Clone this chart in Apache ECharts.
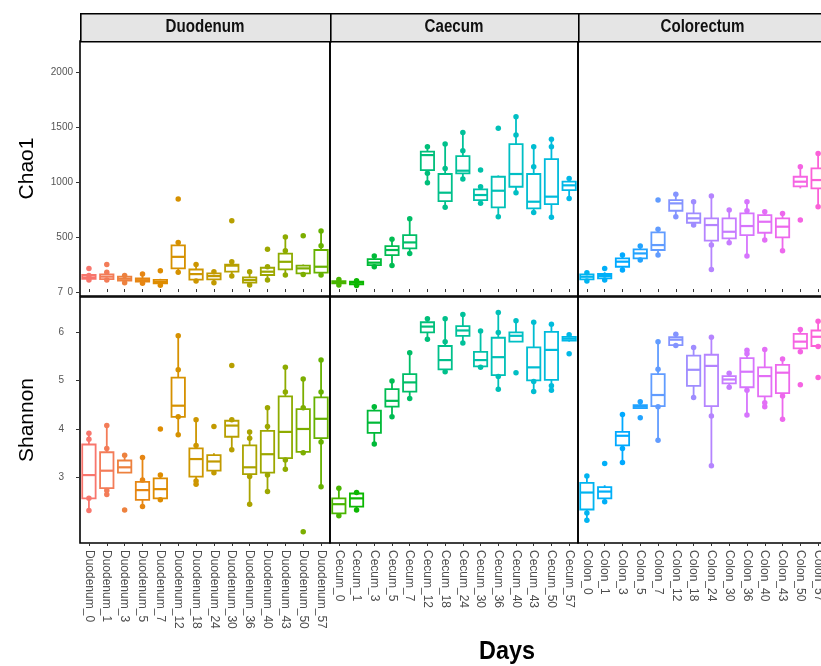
<!DOCTYPE html>
<html>
<head>
<meta charset="utf-8">
<script src="https://cdn.jsdelivr.net/npm/echarts@6/dist/echarts.min.js"></script>
<style>
    html, body { margin: 0; padding: 0; background: #fff; }
    #alpha_chart { width: 821px; height: 666px; }
</style>
</head>
<body>
<div id="alpha_chart"></div>
<script>

// Categories
var duodenumCats = ['Duodenum_0', 'Duodenum_1', 'Duodenum_3', 'Duodenum_5', 'Duodenum_7', 'Duodenum_12', 'Duodenum_18',
    'Duodenum_24', 'Duodenum_30', 'Duodenum_36', 'Duodenum_40', 'Duodenum_43', 'Duodenum_50', 'Duodenum_57'];
var caecumCats = ['Cecum_0', 'Cecum_1', 'Cecum_3', 'Cecum_5', 'Cecum_7', 'Cecum_12', 'Cecum_18',
    'Cecum_24', 'Cecum_30', 'Cecum_36', 'Cecum_40', 'Cecum_43', 'Cecum_50', 'Cecum_57'];
var colonCats = ['Colon_0', 'Colon_1', 'Colon_3', 'Colon_5', 'Colon_7', 'Colon_12', 'Colon_18',
    'Colon_24', 'Colon_30', 'Colon_36', 'Colon_40', 'Colon_43', 'Colon_50', 'Colon_57'];

var facetNames = ['Duodenum', 'Caecum', 'Colorectum'];

// Tick labels
var chao1Ticks = [0, 500, 1000, 1500, 2000];
var shannonTicks = [3, 4, 5, 6];

// Chao1 boxes: [min, Q1, median, Q3, max] and sample points
var duodenumChao1Box = [
    [110, 121, 133, 155, 160], [105, 118, 140, 160, 180], [85, 105, 121, 140, 150], [80, 95, 108, 125, 165],
    [62, 78, 92, 110, 120], [180, 215, 320, 425, 450], [100, 112, 163, 205, 250], [85, 115, 145, 170, 185],
    [145, 185, 240, 250, 276], [64, 85, 109, 133, 185], [110, 155, 185, 221, 230], [155, 206, 275, 350, 500],
    [160, 170, 215, 240, 250], [155, 176, 230, 382, 554]
];
var duodenumChao1Pts = [
    [215, 150, 110], [251, 180, 110], [150, 85], [165, 80], [194, 62], [845, 450, 180], [250, 100],
    [185, 85], [648, 276, 145], [185, 64], [388, 230, 110], [500, 376, 155], [512, 160], [554, 421, 155]
];
var caecumChao1Box = [
    [65, 80, 90, 100, 115], [60, 70, 85, 95, 103], [230, 245, 267, 300, 327], [242, 336, 382, 418, 479],
    [351, 397, 451, 518, 667], [994, 1109, 1245, 1276, 1321], [770, 827, 903, 1073, 1345], [1027, 1079, 1103, 1236, 1451],
    [806, 836, 882, 933, 957], [685, 770, 921, 1048, 1060], [903, 957, 1073, 1345, 1594], [724, 761, 821, 1073, 1321],
    [679, 800, 867, 1209, 1388], [851, 927, 970, 1003, 1033]
];
var caecumChao1Pts = [
    [115, 65], [103, 60], [327, 230], [479, 242], [667, 351], [1321, 1079, 994], [1345, 1124, 770],
    [1451, 1285, 1027], [1109, 957, 806], [1488, 685], [1594, 1427, 903], [1321, 1139, 724], [1388, 1321, 679], [1033, 851]
];
var colonChao1Box = [
    [100, 115, 139, 160, 175], [109, 124, 145, 164, 180], [200, 230, 276, 306, 336], [291, 306, 351, 388, 418],
    [336, 382, 427, 542, 570], [685, 739, 806, 836, 888], [609, 630, 670, 715, 821], [206, 467, 609, 670, 873],
    [448, 488, 548, 670, 745], [327, 518, 600, 715, 821], [473, 539, 639, 700, 730], [376, 497, 594, 670, 715],
    [942, 960, 1003, 1048, 1139], [776, 942, 1018, 1124, 1260]
];
var colonChao1Pts = [
    [175, 100], [215, 109], [336, 200], [418, 291], [836, 570, 336], [888, 685], [821, 609],
    [873, 427, 206], [745, 448], [821, 739, 327], [730, 473], [715, 376], [1139, 654], [1260, 776]
];

// Shannon boxes: [min, Q1, median, Q3, max] and sample points
var duodenumShannonBox = [
    [2.32, 2.57, 3.05, 3.68, 3.91], [2.65, 2.78, 3.14, 3.52, 4.07], [3.10, 3.10, 3.21, 3.35, 3.46], [2.40, 2.54, 2.74, 2.91, 3.41],
    [2.54, 2.57, 2.76, 2.98, 3.05], [3.88, 4.25, 4.48, 5.06, 5.92], [2.86, 3.02, 3.38, 3.60, 4.19], [3.10, 3.14, 3.33, 3.46, 3.50],
    [3.57, 3.84, 4.07, 4.17, 4.19], [2.45, 3.07, 3.21, 3.66, 3.94], [2.71, 3.10, 3.48, 3.96, 4.44], [3.17, 3.40, 3.94, 4.67, 5.27],
    [3.51, 3.53, 4.00, 4.41, 5.03], [2.81, 3.81, 4.21, 4.65, 5.42]
];
var duodenumShannonPts = [
    [3.91, 3.79, 2.57, 2.32], [4.07, 3.60, 2.73, 2.65], [3.46, 2.33], [3.41, 2.95, 2.40], [4.00, 3.05, 2.54],
    [5.92, 5.22, 4.25, 3.88], [4.19, 3.66, 2.93, 2.86], [4.05, 3.10], [5.31, 4.19, 3.57], [3.94, 3.81, 3.02, 2.45],
    [4.44, 4.05, 3.05, 2.71], [5.27, 4.76, 3.36, 3.17], [5.03, 4.44, 3.51, 1.88], [5.42, 4.76, 3.73, 2.81]
];
var caecumShannonBox = [
    [2.21, 2.26, 2.45, 2.57, 2.78], [2.33, 2.40, 2.57, 2.67, 2.69], [3.69, 3.92, 4.13, 4.38, 4.46], [4.25, 4.46, 4.58, 4.82, 4.99],
    [4.63, 4.77, 4.96, 5.13, 5.57], [5.85, 5.99, 6.11, 6.20, 6.27], [5.18, 5.23, 5.42, 5.71, 6.27], [5.77, 5.92, 6.03, 6.12, 6.36],
    [5.27, 5.29, 5.42, 5.59, 6.02], [4.82, 5.11, 5.48, 5.88, 6.40], [5.80, 5.80, 5.92, 5.99, 6.23], [4.77, 5.00, 5.27, 5.68, 6.20],
    [4.80, 5.01, 5.63, 6.00, 6.16], [5.80, 5.82, 5.86, 5.90, 5.94]
];
var caecumShannonPts = [
    [2.78, 2.21], [2.69, 2.33], [4.46, 3.69], [4.99, 4.25], [5.57, 4.63], [6.27, 5.85], [6.27, 5.80, 5.18],
    [6.36, 5.77], [6.02, 5.27], [6.40, 5.99, 5.08, 4.82], [6.23, 5.16], [6.20, 4.98, 4.77], [6.16, 4.89, 4.80], [5.94, 5.55]
];
var colonShannonBox = [
    [2.12, 2.34, 2.69, 2.89, 3.03], [2.50, 2.57, 2.71, 2.80, 2.84], [3.31, 3.66, 3.86, 3.94, 4.30], [4.43, 4.43, 4.46, 4.49, 4.56],
    [3.77, 4.47, 4.70, 5.13, 5.80], [5.72, 5.73, 5.84, 5.89, 5.95], [4.65, 4.89, 5.22, 5.51, 5.68], [3.24, 4.47, 5.30, 5.53, 5.89],
    [4.86, 4.94, 5.02, 5.09, 5.15], [4.29, 4.86, 5.18, 5.46, 5.62], [4.46, 4.67, 5.09, 5.27, 5.64], [4.20, 4.74, 5.16, 5.32, 5.44],
    [5.59, 5.66, 5.80, 5.96, 6.05], [5.70, 5.71, 5.90, 6.03, 6.22]
];
var colonShannonPts = [
    [3.03, 2.27, 2.12], [3.29, 2.50], [4.30, 3.60, 3.31], [4.56, 4.23], [5.80, 5.23, 4.46, 3.77], [5.95, 5.72], [5.68, 4.65],
    [5.89, 4.27, 3.24], [5.15, 4.86], [5.62, 5.55, 4.80, 4.29], [5.64, 4.54, 4.46], [5.44, 4.68, 4.20], [6.05, 5.59, 4.91], [6.22, 5.70, 5.06]
];


// Setup
// ------------------------------

var catsByCol = [duodenumCats, caecumCats, colonCats];
var boxesByRow = [
    [duodenumChao1Box, caecumChao1Box, colonChao1Box],
    [duodenumShannonBox, caecumShannonBox, colonShannonBox]
];
var ptsByRow = [
    [duodenumChao1Pts, caecumChao1Pts, colonChao1Pts],
    [duodenumShannonPts, caecumShannonPts, colonShannonPts]
];

var cols = [{left: 80, width: 250}, {left: 330, width: 248}, {left: 578, width: 249}];
var rows = [
    {top: 41, height: 255, min: -36, max: 2282, ticks: chao1Ticks, name: 'Chao1', margin: 7},
    {top: 297, height: 246, min: 1.65, max: 6.72, ticks: shannonTicks, name: 'Shannon', margin: 16}
];

var labelFont = '"Liberation Sans", Arial, sans-serif';

// ggplot-like hue palette (hcl, c=100, l=65)
var hueColor = function(i, n) {
    var h = (15 + 360 * i / n) * Math.PI / 180;
    var L = 65, C = 100;
    var U = C * Math.cos(h), V = C * Math.sin(h);
    var Xn = 95.047, Yn = 100, Zn = 108.883;
    var den = Xn + 15 * Yn + 3 * Zn;
    var un = 4 * Xn / den, vn = 9 * Yn / den;
    var Y = Yn * Math.pow((L + 16) / 116, 3);
    var u = U / (13 * L) + un, v = V / (13 * L) + vn;
    var X = 9 * Y * u / (4 * v);
    var Z = 3 * Y / v - 5 * Y - X / 3;
    X /= 100; Y /= 100; Z /= 100;
    var lin = [
        3.240479 * X - 1.537150 * Y - 0.498535 * Z,
        -0.969256 * X + 1.875992 * Y + 0.041556 * Z,
        0.055648 * X - 0.204043 * Y + 1.057311 * Z
    ];
    return '#' + lin.map(function(c) {
        c = c <= 0.0031308 ? 12.92 * c : 1.055 * Math.pow(c, 1 / 2.4) - 0.055;
        c = Math.round(Math.max(0, Math.min(1, c)) * 255);
        return (c < 16 ? '0' : '') + c.toString(16);
    }).join('');
};
var palette = [];
for (var k = 0; k < 48; k++) palette.push(hueColor(k, 48));

var makeBoxRender = function(offset) {
    return function(params, api) {
        var x = api.value(0);
        var lo = api.coord([x, api.value(1)]);
        var q1 = api.coord([x, api.value(2)]);
        var md = api.coord([x, api.value(3)]);
        var q3 = api.coord([x, api.value(4)]);
        var hi = api.coord([x, api.value(5)]);
        var w = api.size([1, 0])[0] * 0.75;
        var color = palette[offset + x];
        var line = {stroke: color, lineWidth: 1.8};
        return {
            type: 'group',
            children: [
                {type: 'line', shape: {x1: lo[0], y1: lo[1], x2: q1[0], y2: q1[1]}, style: line},
                {type: 'line', shape: {x1: q3[0], y1: q3[1], x2: hi[0], y2: hi[1]}, style: line},
                {type: 'rect', shape: {x: q3[0] - w / 2, y: q3[1], width: w, height: q1[1] - q3[1]},
                    style: {fill: '#fff', stroke: color, lineWidth: 1.8}},
                {type: 'line', shape: {x1: md[0] - w / 2, y1: md[1], x2: md[0] + w / 2, y2: md[1]},
                    style: {stroke: color, lineWidth: 2.2}}
            ]
        };
    };
};

var grids = [], xAxes = [], yAxes = [], series = [], graphics = [];

rows.forEach(function(row, r) {
    cols.forEach(function(col, c) {
        var g = r * 3 + c;
        grids.push({
            left: col.left, top: row.top, width: col.width, height: row.height,
            outerBoundsMode: 'none', containLabel: false,
            show: true, borderColor: '#000', borderWidth: 1.6, backgroundColor: 'transparent'
        });
        xAxes.push({
            type: 'category', gridIndex: g, data: catsByCol[c],
            axisLine: {show: false},
            axisTick: {show: true, interval: 0, alignWithLabel: true, inside: r === 0, length: 3,
                lineStyle: {color: '#333'}},
            axisLabel: r === 1 ? {
                show: true, rotate: -90, interval: 0, margin: 7, fontSize: 12,
                color: '#4d4d4d', fontFamily: labelFont
            } : {show: false, interval: 0},
            splitLine: {show: false}
        });
        yAxes.push({
            type: 'value', gridIndex: g, min: row.min, max: row.max,
            name: c === 0 ? row.name : '',
            nameLocation: 'middle', nameGap: 42,
            nameTextStyle: {fontSize: 21, color: '#000', fontFamily: labelFont},
            axisLine: {show: false},
            splitLine: {show: false},
            axisTick: {show: c === 0, length: 4, customValues: row.ticks, lineStyle: {color: '#333'}},
            axisLabel: {show: c === 0, customValues: row.ticks, margin: row.margin, fontSize: 10,
                color: '#555', fontFamily: labelFont,
                formatter: function(v) { return String(v); }}
        });

        var offset = c * 14;
        var boxData = boxesByRow[r][c].map(function(b, i) {
            return [i].concat(b);
        });
        var ptData = [];
        ptsByRow[r][c].forEach(function(list, i) {
            list.forEach(function(v) { ptData.push([i, v]); });
        });

        series.push({
            type: 'custom', xAxisIndex: g, yAxisIndex: g, z: 2,
            renderItem: makeBoxRender(offset),
            encode: {x: 0, y: [1, 2, 3, 4, 5]},
            data: boxData
        });
        series.push({
            type: 'scatter', xAxisIndex: g, yAxisIndex: g, z: 3,
            symbolSize: 5.5,
            itemStyle: {
                opacity: 1,
                color: function(p) { return palette[offset + p.data[0]]; }
            },
            data: ptData
        });
    });
});

// Facet strips
cols.forEach(function(col, c) {
    graphics.push({
        type: 'rect', left: col.left, top: 13, z: 10,
        shape: {width: col.width, height: 28},
        style: {fill: '#e5e5e5', stroke: '#000', lineWidth: 1.6}
    });
    graphics.push({
        type: 'text', x: col.left + col.width / 2, y: 27, z: 11,
        scaleX: 0.84,
        style: {text: facetNames[c], font: 'bold 18px ' + labelFont, fill: '#111',
            textAlign: 'center', textVerticalAlign: 'middle'}
    });
});

// Stray axis label and x title
graphics.push({
    type: 'text', x: 63, y: 292, z: 11,
    style: {text: '7', font: '10px ' + labelFont, fill: '#555', textAlign: 'right', textVerticalAlign: 'middle'}
});
graphics.push({
    type: 'text', x: 507, y: 652, z: 11,
    scaleX: 0.9,
    style: {text: 'Days', font: 'bold 26px ' + labelFont, fill: '#000', textAlign: 'center', textVerticalAlign: 'middle'}
});

var chart = echarts.init(document.getElementById('alpha_chart'));
chart.setOption({
    animation: false,
    backgroundColor: '#fff',
    textStyle: {fontFamily: labelFont},
    grid: grids,
    xAxis: xAxes,
    yAxis: yAxes,
    series: series,
    graphic: graphics
});

</script>
</body>
</html>
